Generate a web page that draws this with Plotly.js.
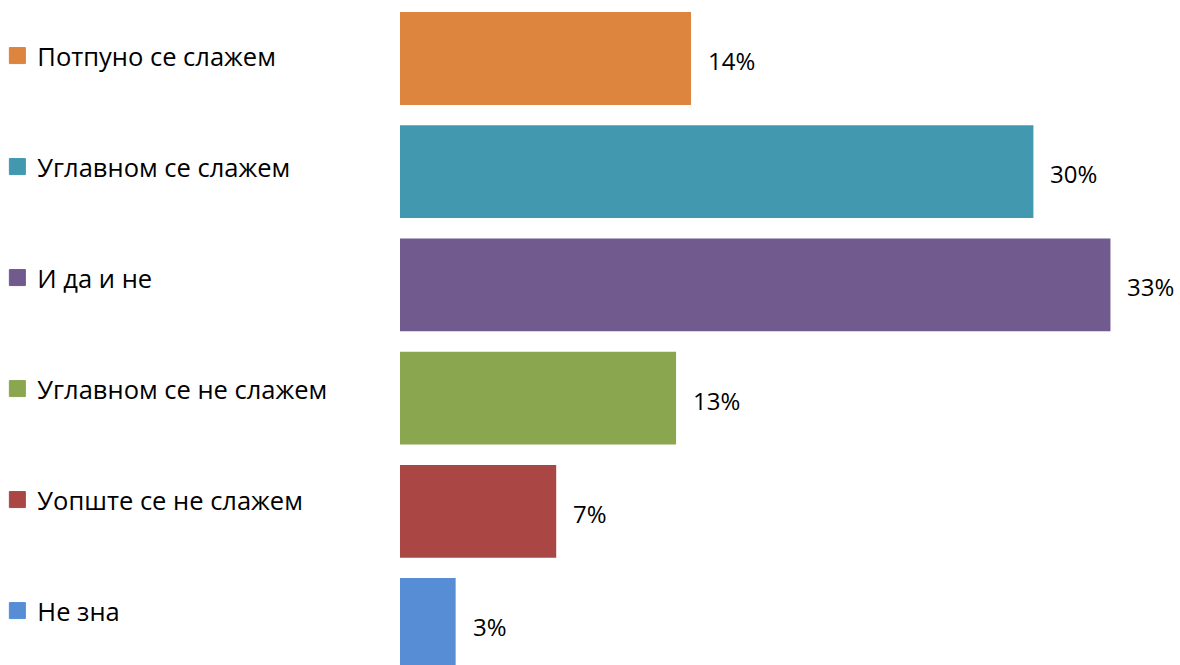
<!DOCTYPE html>
<html><head><meta charset="utf-8">
<script src="https://cdn.plot.ly/plotly-3.0.1.min.js"></script>
<style>html,body{margin:0;padding:0;background:#fff}#c{width:1180px;height:665px}</style>
</head><body><div id="c"></div>
<script>
const categories = ['Потпуно се слажем','Углавном се слажем','И да и не','Углавном се не слажем','Уопште се не слажем','Не зна'];
const values = [13.6, 29.6, 33.2, 12.9, 7.3, 2.6];
const valueLabels = ['14%','30%','33%','13%','7%','3%'];
const colors = ['#DD843F','#4299AF','#715A8E','#8AA64F','#AA4745','#568DD5'];

const FONT = 'Open Sans, sans-serif';
const traces = [];
const layout = {
  width:1180, height:665,
  margin:{l:400, r:0, t:0, b:0},
  paper_bgcolor:'#fff', plot_bgcolor:'#fff',
  barmode:'overlay', bargap:0.18,
  showlegend:true,
  xaxis:{range:[0,36.45], visible:false, fixedrange:true},
  yaxis:{type:'category', categoryarray:categories, range:[5.358,-0.517], visible:false, fixedrange:true},
  annotations:[]
};
const legendY = [56, 167, 278, 389, 500, 611];
categories.forEach((c,i)=>{
  traces.push({type:'bar', orientation:'h', x:[values[i]], y:[c], name:c,
    marker:{color:colors[i], line:{width:0}}, showlegend:false, hoverinfo:'skip'});
  const lg = i===0 ? 'legend' : 'legend'+(i+1);
  traces.push({type:'scatter', mode:'markers', x:[null], y:[null], name:c, legend:lg,
    marker:{symbol:'square', size:17, color:colors[i], line:{width:1, color:colors[i]}}, hoverinfo:'skip'});
  layout[lg] = {xref:'container', yref:'container', x:0.002, xanchor:'left',
    y:1-legendY[i]/665, yanchor:'middle', bgcolor:'rgba(0,0,0,0)', borderwidth:0,
    itemsizing:'trace', indentation:-5,
    font:{family:FONT, size:25.5, color:'#000'}};
  layout.annotations.push({x:values[i], y:c, xref:'x', yref:'y', text:valueLabels[i],
    showarrow:false, xanchor:'left', yanchor:'middle', xshift:15, yshift:-2,
    font:{family:FONT, size:24, color:'#000'}});
});
Plotly.newPlot('c', traces, layout, {staticPlot:true});
</script></body></html>
